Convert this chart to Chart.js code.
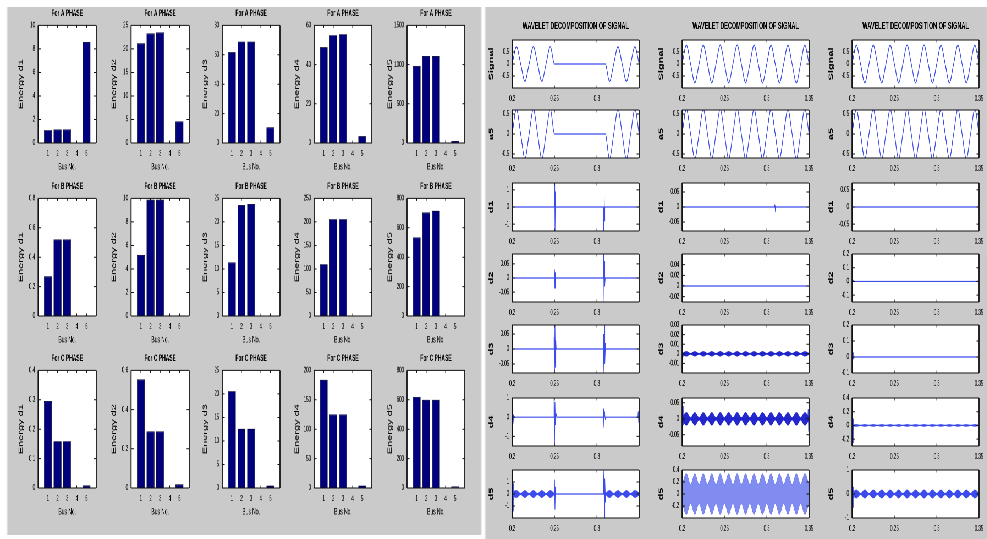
<!DOCTYPE html>
<html>
<head>
<meta charset="utf-8">
<script src="https://cdn.jsdelivr.net/npm/chart.js@4.4.1/dist/chart.umd.min.js"></script>
<style>
  html, body { margin: 0; padding: 0; background: #fff; overflow: hidden; }
  #stage { position: absolute; left: 0; top: 0; width: 1795px; height: 539px; transform: scaleX(0.55); transform-origin: 0 0; }
  .panel { position: absolute; background: #cacaca; }
  canvas { position: absolute; }
</style>
</head>
<body>
<div id="stage"></div>
<script>
// ---------- left figure: energy of the decomposition levels per bus ----------
const busNo = [1, 2, 3, 4, 5];
const busTicks = [1, 2, 3, 4, 5];
const phaseTitles = ['For A PHASE', 'For B PHASE', 'For C PHASE'];
const energyNames = ['Energy d1', 'Energy d2', 'Energy d3', 'Energy d4', 'Energy d5'];

const phaseA_d1 = [1.1, 1.15, 1.15, 0.03, 8.6];
const phaseA_d2 = [21.2, 23.3, 23.5, 0.1, 4.6];
const phaseA_d3 = [61.8, 69, 69, 0.3, 10.7];
const phaseA_d4 = [48.9, 55, 55.5, 0.3, 3.5];
const phaseA_d5 = [983, 1109, 1109, 5, 25];
const phaseB_d1 = [0.27, 0.52, 0.52, 0.004, 0.004];
const phaseB_d2 = [5.2, 9.9, 9.9, 0.05, 0.05];
const phaseB_d3 = [11.4, 23.6, 23.8, 0.1, 0.1];
const phaseB_d4 = [110, 206, 206, 1, 1];
const phaseB_d5 = [534, 704, 716, 3, 3];
const phaseC_d1 = [0.296, 0.159, 0.159, 0.002, 0.009];
const phaseC_d2 = [0.554, 0.289, 0.289, 0.003, 0.019];
const phaseC_d3 = [20.6, 12.6, 12.6, 0.1, 0.5];
const phaseC_d4 = [184, 125, 125, 1, 4];
const phaseC_d5 = [619, 600, 600, 3, 10];

const ticksA = [[0, 2, 4, 6, 8, 10], [0, 5, 10, 15, 20, 25], [0, 20, 40, 60, 80], [0, 20, 40, 60], [0, 500, 1000, 1500]];
const ticksB = [[0, 0.2, 0.4, 0.6, 0.8], [0, 2, 4, 6, 8, 10], [0, 5, 10, 15, 20, 25], [0, 50, 100, 150, 200, 250], [0, 200, 400, 600, 800]];
const ticksC = [[0, 0.1, 0.2, 0.3, 0.4], [0, 0.2, 0.4, 0.6], [0, 5, 10, 15, 20, 25], [0, 50, 100, 150, 200], [0, 200, 400, 600, 800]];

// ---------- right figure: wavelet decomposition, three cases ----------
const waveTitle = 'WAVELET DECOMPOSITION OF SIGNAL';
const levelNames = ['Signal', 'a5', 'd1', 'd2', 'd3', 'd4', 'd5'];
const timeTicks = [0.2, 0.25, 0.3, 0.35];
const timeTicksCase1 = [0.2, 0.25, 0.3];
const tQ = [0.2, 0.205, 0.21, 0.215, 0.22, 0.225, 0.23, 0.235, 0.24, 0.245, 0.25, 0.255, 0.26, 0.265, 0.27, 0.275, 0.28, 0.285, 0.29, 0.295, 0.3, 0.305, 0.31, 0.315, 0.32, 0.325, 0.33, 0.335, 0.34, 0.345, 0.35];

// case 1 (interruption between 0.25 and 0.31 s)
const sig1 = [0, 0.72, 0, -0.72, 0, 0.72, 0, -0.72, 0, 0.72, 0, 0, 0, 0, 0, 0, 0, 0, 0, 0, 0, 0, 0, -0.72, 0, 0.72, 0, -0.72, 0, 0.72, 0];
const a5_1 = [0, 0.62, 0, -0.62, 0, 0.62, 0, -0.62, 0, 0.62, 0, 0, 0, 0, 0, 0, 0, 0, 0, 0, 0, 0, 0, -0.62, 0, 0.62, 0, -0.62, 0, 0.62, 0];
const d1_1t = [0.2, 0.2498, 0.2502, 0.2506, 0.251, 0.2514, 0.3079, 0.3083, 0.3087, 0.3091, 0.3095, 0.35];
const d1_1y = [0, 0, 1.5, -1.5, 0.9, 0, 0, -1.5, 1.5, -0.8, 0, 0];
const d2_1t = [0.2, 0.2496, 0.25, 0.2504, 0.2508, 0.2512, 0.3078, 0.3082, 0.3086, 0.309, 0.3094, 0.3098, 0.35];
const d2_1y = [0, 0, 0.03, -0.035, 0.02, 0, 0, 0.1, -0.1, 0.06, -0.03, 0, 0];
const d3_1t = [0.2, 0.249, 0.2495, 0.25, 0.2505, 0.251, 0.2515, 0.252, 0.3075, 0.308, 0.3085, 0.309, 0.3095, 0.31, 0.3105, 0.35];
const d3_1y = [0, 0, 0.04, -0.09, 0.09, -0.06, 0.03, 0, 0, 0.05, -0.09, 0.09, -0.05, 0.02, 0, 0];
const d4_1t = [0.2, 0.2005, 0.201, 0.2015, 0.203, 0.249, 0.2495, 0.25, 0.2505, 0.251, 0.252, 0.253, 0.3075, 0.308, 0.3085, 0.309, 0.31, 0.311, 0.3485, 0.349, 0.3495, 0.35];
const d4_1y = [0, 0.4, -0.35, 0.1, 0, 0, 1.1, -1.6, 0.8, -0.4, 0.15, 0, 0, 0.45, -0.55, 0.3, -0.1, 0, 0, 0.3, -0.3, 0];
const d5_1t = [0.2, 0.2004, 0.2008, 0.2012, 0.2016, 0.202, 0.2495, 0.25, 0.2505, 0.251, 0.2515, 0.308, 0.3085, 0.309, 0.3095, 0.31, 0.3105, 0.35];
const d5_1y = [0, 1.2, -1.4, 0.9, -0.5, 0, 0, 1.2, -1.3, 0.6, 0, 0, 2.2, -2.2, 1.3, -0.7, 0, 0];
const d5_1Up = [0.15, 0.3, 0.05, 0.3, 0.05, 0.3, 0.05, 0.3, 0.05, 0.3, 0.05, 0, 0, 0, 0, 0, 0, 0, 0, 0, 0, 0, 0.05, 0.3, 0.05, 0.3, 0.05, 0.3, 0.05, 0.3, 0.1];
const d5_1Lo = [-0.15, -0.3, -0.05, -0.3, -0.05, -0.3, -0.05, -0.3, -0.05, -0.3, -0.05, 0, 0, 0, 0, 0, 0, 0, 0, 0, 0, 0, -0.05, -0.3, -0.05, -0.3, -0.05, -0.3, -0.05, -0.3, -0.1];

// case 2
const sig2 = [0, 0.78, 0, -0.78, 0, 0.78, 0, -0.78, 0, 0.78, 0, -0.78, 0, 0.78, 0, -0.78, 0, 0.78, 0, -0.78, 0, 0.78, 0, -0.78, 0, 0.78, 0, -0.78, 0, 0.78, 0];
const a5_2 = [0, 0.62, 0, -0.62, 0, 0.62, 0, -0.62, 0, 0.62, 0, -0.62, 0, 0.62, 0, -0.62, 0, 0.62, 0, -0.62, 0, 0.62, 0, -0.62, 0, 0.62, 0, -0.62, 0, 0.62, 0];
const d1_2t = [0.2, 0.309, 0.3095, 0.31, 0.3105, 0.311, 0.35];
const d1_2y = [0, 0, 0.008, -0.008, 0.004, 0, 0];
const d2_2t = [0.2, 0.2005, 0.201, 0.2015, 0.35];
const d2_2y = [0.004, -0.004, 0.002, 0, 0];
const d3_2t = [0.2, 0.2003, 0.2006, 0.2009, 0.2015, 0.35];
const d3_2y = [0.03, -0.015, 0.01, -0.004, 0, 0];
const d3_2Up = [0.0005, 0.0025, 0.0005, 0.0025, 0.0005, 0.0025, 0.0005, 0.0025, 0.0005, 0.0025, 0.0005, 0.0025, 0.0005, 0.0025, 0.0005, 0.0025, 0.0005, 0.0025, 0.0005, 0.0025, 0.0005, 0.0025, 0.0005, 0.0025, 0.0005, 0.0025, 0.0005, 0.0025, 0.0005, 0.0025, 0.0005];
const d3_2Lo = [-0.0005, -0.0025, -0.0005, -0.0025, -0.0005, -0.0025, -0.0005, -0.0025, -0.0005, -0.0025, -0.0005, -0.0025, -0.0005, -0.0025, -0.0005, -0.0025, -0.0005, -0.0025, -0.0005, -0.0025, -0.0005, -0.0025, -0.0005, -0.0025, -0.0005, -0.0025, -0.0005, -0.0025, -0.0005, -0.0025, -0.0005];
const d4_2t = [0.2, 0.2003, 0.2006, 0.2009, 0.2012, 0.2015, 0.3485, 0.349, 0.3495, 0.35];
const d4_2y = [0, 0.06, -0.08, 0.04, -0.02, 0, 0, 0.03, -0.04, 0];
const d4_2Up = [0.004, 0.02, 0.004, 0.02, 0.004, 0.02, 0.004, 0.02, 0.004, 0.02, 0.004, 0.02, 0.004, 0.02, 0.004, 0.02, 0.004, 0.02, 0.004, 0.02, 0.004, 0.02, 0.004, 0.02, 0.004, 0.02, 0.004, 0.02, 0.004, 0.02, 0.004];
const d4_2Lo = [-0.004, -0.02, -0.004, -0.02, -0.004, -0.02, -0.004, -0.02, -0.004, -0.02, -0.004, -0.02, -0.004, -0.02, -0.004, -0.02, -0.004, -0.02, -0.004, -0.02, -0.004, -0.02, -0.004, -0.02, -0.004, -0.02, -0.004, -0.02, -0.004, -0.02, -0.004];
const d5_2t = [0.2, 0.2004, 0.2008];
const d5_2y = [0.38, -0.3, 0];
const d5_2Up = [0.16, 0.34, 0.16, 0.34, 0.16, 0.34, 0.16, 0.34, 0.16, 0.34, 0.16, 0.34, 0.16, 0.34, 0.16, 0.34, 0.16, 0.34, 0.16, 0.34, 0.16, 0.34, 0.16, 0.34, 0.16, 0.34, 0.16, 0.34, 0.16, 0.34, 0.16];
const d5_2Lo = [-0.16, -0.34, -0.16, -0.34, -0.16, -0.34, -0.16, -0.34, -0.16, -0.34, -0.16, -0.34, -0.16, -0.34, -0.16, -0.34, -0.16, -0.34, -0.16, -0.34, -0.16, -0.34, -0.16, -0.34, -0.16, -0.34, -0.16, -0.34, -0.16, -0.34, -0.16];

// case 3
const sig3 = [0, 0.78, 0, -0.78, 0, 0.78, 0, -0.78, 0, 0.78, 0, -0.78, 0, 0.78, 0, -0.78, 0, 0.78, 0, -0.78, 0, 0.78, 0, -0.78, 0, 0.78, 0, -0.78, 0, 0.78, 0];
const a5_3 = [0, 0.62, 0, -0.62, 0, 0.62, 0, -0.62, 0, 0.62, 0, -0.62, 0, 0.62, 0, -0.62, 0, 0.62, 0, -0.62, 0, 0.62, 0, -0.62, 0, 0.62, 0, -0.62, 0, 0.62, 0];
const d1_3t = [0.2, 0.35];
const d1_3y = [0, 0];
const d2_3t = [0.2, 0.2005, 0.201, 0.2015, 0.35];
const d2_3y = [0.02, -0.02, 0.01, 0, 0];
const d3_3t = [0.2, 0.2004, 0.2008, 0.2012, 0.2016, 0.35];
const d3_3y = [0.04, -0.05, 0.03, -0.01, 0, 0];
const d4_3t = [0.2, 0.2004, 0.2008, 0.2012, 0.2016, 0.2025, 0.35];
const d4_3y = [0.1, 0.3, -0.25, 0.1, -0.05, 0, 0];
const d4_3Up = [0.003, 0.015, 0.003, 0.015, 0.003, 0.015, 0.003, 0.015, 0.003, 0.015, 0.003, 0.015, 0.003, 0.015, 0.003, 0.015, 0.003, 0.015, 0.003, 0.015, 0.003, 0.015, 0.003, 0.015, 0.003, 0.015, 0.003, 0.015, 0.003, 0.015, 0.003];
const d4_3Lo = [-0.003, -0.015, -0.003, -0.015, -0.003, -0.015, -0.003, -0.015, -0.003, -0.015, -0.003, -0.015, -0.003, -0.015, -0.003, -0.015, -0.003, -0.015, -0.003, -0.015, -0.003, -0.015, -0.003, -0.015, -0.003, -0.015, -0.003, -0.015, -0.003, -0.015, -0.003];
const d5_3t = [0.2, 0.2004, 0.2008, 0.2012, 0.2016, 0.202, 0.35];
const d5_3y = [0, 0.45, -0.55, 0.3, -0.1, 0, 0];
const d5_3Up = [0.03, 0.17, 0.03, 0.17, 0.03, 0.17, 0.03, 0.17, 0.03, 0.17, 0.03, 0.17, 0.03, 0.17, 0.03, 0.17, 0.03, 0.17, 0.03, 0.17, 0.03, 0.17, 0.03, 0.17, 0.03, 0.17, 0.03, 0.17, 0.03, 0.17, 0.03];
const d5_3Lo = [-0.03, -0.17, -0.03, -0.17, -0.03, -0.17, -0.03, -0.17, -0.03, -0.17, -0.03, -0.17, -0.03, -0.17, -0.03, -0.17, -0.03, -0.17, -0.03, -0.17, -0.03, -0.17, -0.03, -0.17, -0.03, -0.17, -0.03, -0.17, -0.03, -0.17, -0.03];

// ---------- layout (real pixels; the stage is squeezed horizontally by SX) ----------
const SX = 0.55;
const barColX = [38, 131, 222, 314, 407], barPlotW = 58;
const barRowY = [25, 198, 370], barPlotH = 118;
const waveColX = [512, 682, 852], wavePlotW = 127;
const waveRowY = [40, 110, 183, 254, 325, 398, 470], wavePlotH = 48;

const lineBlue = 'rgb(60,75,235)';
const FONT = "'Liberation Sans', Arial, sans-serif";
Chart.defaults.font.family = FONT;
Chart.defaults.color = '#000';

const mBar = { yW: 70, pad: 2, top: 21.4, xH: 34, right: 14, tick: 8, yTickPad: 5.5, xTickPad: 6,
  yTitle: { size: 11 }, yTitlePad: 32.5, xTitlePad: 4.6, title: { size: 9, lineHeight: 1.2 }, titlePadB: 6.6 };
const mWaveTop = { yW: 60, pad: 2, top: 24, xH: 18, right: 14, tick: 8, yTickPad: 5.5, xTickPad: 6,
  yTitle: { size: 11, weight: 'bold' }, yTitlePad: 15.2, title: { size: 10, lineHeight: 1.2 }, titlePadB: 8 };
const mWave = Object.assign({}, mWaveTop, { pad: 6, top: 6, title: null });

const stage = document.getElementById('stage');

function addPanel(x, y, w, h) {
  const d = document.createElement('div');
  d.className = 'panel';
  Object.assign(d.style, { left: x / SX + 'px', top: y + 'px', width: w / SX + 'px', height: h + 'px' });
  stage.appendChild(d);
}

function makeCanvas(px, py, pw, ph, m) {
  const c = document.createElement('canvas');
  const w = m.yW + pw / SX + m.right;
  const h = m.top + ph + m.xH + 2;
  c.width = w; c.height = h;
  Object.assign(c.style, { left: (px / SX - m.yW) + 'px', top: (py - m.top) + 'px', width: w + 'px', height: h + 'px' });
  stage.appendChild(c);
  return c;
}

// white axes area, matlab style box and inward ticks
const frame = {
  id: 'frame',
  beforeDraw(chart) {
    const a = chart.chartArea, ctx = chart.ctx;
    ctx.save(); ctx.fillStyle = '#fff'; ctx.fillRect(a.left, a.top, a.width, a.height); ctx.restore();
  },
  afterDraw(chart) {
    const a = chart.chartArea, ctx = chart.ctx, sx = chart.scales.x, sy = chart.scales.y;
    ctx.save();
    ctx.strokeStyle = '#111';
    ctx.lineWidth = 1;
    ctx.beginPath();
    ctx.moveTo(a.left, a.top); ctx.lineTo(a.right, a.top);
    ctx.moveTo(a.left, a.bottom); ctx.lineTo(a.right, a.bottom);
    sx.ticks.forEach(t => {
      const p = sx.getPixelForValue(t.value);
      ctx.moveTo(p, a.bottom); ctx.lineTo(p, a.bottom - 2.5);
      ctx.moveTo(p, a.top); ctx.lineTo(p, a.top + 2.5);
    });
    sy.ticks.forEach(t => {
      const p = sy.getPixelForValue(t.value);
      ctx.moveTo(a.left, p); ctx.lineTo(a.left + 4.5, p);
      ctx.moveTo(a.right, p); ctx.lineTo(a.right - 4.5, p);
    });
    ctx.stroke();
    ctx.beginPath();
    ctx.lineWidth = 1.8;
    ctx.moveTo(a.left, a.top); ctx.lineTo(a.left, a.bottom);
    ctx.moveTo(a.right, a.top); ctx.lineTo(a.right, a.bottom);
    ctx.stroke();
    ctx.restore();
  }
};

function xScale(min, max, ticks, title, m) {
  return {
    type: 'linear', min, max, offset: false,
    grid: { display: false, drawTicks: false }, border: { display: false },
    ticks: { font: { size: m.tick }, padding: m.xTickPad, autoSkip: false, maxRotation: 0, callback: v => String(v) },
    title: { display: !!title, text: title || '', font: { size: 9 }, padding: { top: 0, bottom: m.xTitlePad || 0 } },
    afterBuildTicks: s => { s.ticks = ticks.map(v => ({ value: v })); },
    afterFit: s => { s.height = m.xH; s.paddingLeft = 0; s.paddingRight = 0; }
  };
}

function yScale(min, max, ticks, title, m) {
  return {
    type: 'linear', min, max,
    grid: { display: false, drawTicks: false }, border: { display: false },
    ticks: { font: { size: m.tick }, padding: m.yTickPad, autoSkip: false, callback: v => String(v) },
    title: { display: true, text: title, font: m.yTitle, padding: { top: m.yTitlePad, bottom: 0 } },
    afterBuildTicks: s => { s.ticks = ticks.map(v => ({ value: v })); },
    afterFit: s => { s.width = m.yW; s.paddingTop = 0; s.paddingBottom = 0; }
  };
}

function baseOptions(m, titleText) {
  return {
    responsive: false, animation: false, devicePixelRatio: 2,
    layout: { padding: { left: 0, right: m.right, top: m.pad, bottom: 2 }, autoPadding: false },
    plugins: {
      legend: { display: false }, tooltip: { enabled: false },
      title: m.title
        ? { display: true, fullSize: false, align: 'center', text: titleText, font: m.title, color: '#000', padding: { top: 2, bottom: m.titlePadB } }
        : { display: false }
    }
  };
}

function barPlot(r, c, vals, ticks) {
  const cv = makeCanvas(barColX[c], barRowY[r], barPlotW, barPlotH, mBar);
  const opts = baseOptions(mBar, phaseTitles[r]);
  opts.scales = {
    x: xScale(0, 6, busTicks, 'Bus No.', mBar),
    y: yScale(0, ticks[ticks.length - 1], ticks, energyNames[c], mBar)
  };
  new Chart(cv, {
    type: 'bar',
    data: { datasets: [{
      data: busNo.map((b, i) => ({ x: b, y: vals[i] })),
      backgroundColor: '#00007c', borderColor: '#000030', borderWidth: 0.8,
      barPercentage: 0.8, categoryPercentage: 1
    }] },
    options: opts,
    plugins: [frame]
  });
}

function wavePlot(col, row, p) {
  const m = row === 0 ? mWaveTop : mWave;
  const cv = makeCanvas(waveColX[col], waveRowY[row], wavePlotW, wavePlotH, m);
  const datasets = [];
  if (p.up) {
    const ec = p.envColor || lineBlue;
    datasets.push({ data: tQ.map((t, i) => ({ x: t, y: p.up[i] })), borderColor: ec, backgroundColor: ec,
      borderWidth: 0.6, pointRadius: 0, tension: 0.35, fill: '+1' });
    datasets.push({ data: tQ.map((t, i) => ({ x: t, y: p.lo[i] })), borderColor: ec, backgroundColor: ec,
      borderWidth: 0.6, pointRadius: 0, tension: 0.35, fill: false });
  }
  datasets.push({ data: p.t.map((t, i) => ({ x: t, y: p.y[i] })), borderColor: lineBlue, borderWidth: 1.2,
    pointRadius: 0, fill: false, tension: 0, cubicInterpolationMode: p.smooth ? 'monotone' : 'default' });
  const opts = baseOptions(m, waveTitle);
  opts.scales = {
    x: xScale(0.2, 0.35, col === 0 ? timeTicksCase1 : timeTicks, null, m),
    y: yScale(p.lim[0], p.lim[1], p.ticks, levelNames[row], m)
  };
  new Chart(cv, { type: 'line', data: { datasets }, options: opts, plugins: [frame] });
}

// ---------- build ----------
addPanel(7, 7, 474, 528);
addPanel(485, 7, 502, 532);

const energyRows = [
  [phaseA_d1, phaseA_d2, phaseA_d3, phaseA_d4, phaseA_d5],
  [phaseB_d1, phaseB_d2, phaseB_d3, phaseB_d4, phaseB_d5],
  [phaseC_d1, phaseC_d2, phaseC_d3, phaseC_d4, phaseC_d5]
];
const tickRows = [ticksA, ticksB, ticksC];
energyRows.forEach((row, r) => row.forEach((vals, c) => barPlot(r, c, vals, tickRows[r][c])));

const darkBand = 'rgba(25,30,200,0.95)';
const lightBand = 'rgba(80,95,235,0.72)';
const waveCols = [
  [
    { lim: [-1, 1], ticks: [-0.5, 0, 0.5], t: tQ, y: sig1, smooth: true },
    { lim: [-0.6, 0.6], ticks: [-0.5, 0, 0.5], t: tQ, y: a5_1, smooth: true },
    { lim: [-1.4, 1.4], ticks: [-1, 0, 1], t: d1_1t, y: d1_1y },
    { lim: [-0.085, 0.085], ticks: [-0.05, 0, 0.05], t: d2_1t, y: d2_1y },
    { lim: [-0.08, 0.08], ticks: [-0.05, 0, 0.05], t: d3_1t, y: d3_1y },
    { lim: [-1.5, 1], ticks: [-1, 0, 1], t: d4_1t, y: d4_1y },
    { lim: [-2, 2], ticks: [-1, 0, 1], t: d5_1t, y: d5_1y, up: d5_1Up, lo: d5_1Lo }
  ],
  [
    { lim: [-1, 1], ticks: [-0.5, 0, 0.5], t: tQ, y: sig2, smooth: true },
    { lim: [-0.6, 0.6], ticks: [-0.5, 0, 0.5], t: tQ, y: a5_2, smooth: true },
    { lim: [-0.08, 0.08], ticks: [-0.05, 0, 0.05], t: d1_2t, y: d1_2y },
    { lim: [-0.03, 0.06], ticks: [-0.02, 0, 0.02, 0.04], t: d2_2t, y: d2_2y },
    { lim: [-0.02, 0.03], ticks: [-0.01, 0, 0.01, 0.02, 0.03], t: d3_2t, y: d3_2y, up: d3_2Up, lo: d3_2Lo, envColor: darkBand },
    { lim: [-0.085, 0.065], ticks: [-0.05, 0, 0.05], t: d4_2t, y: d4_2y, up: d4_2Up, lo: d4_2Lo, envColor: darkBand },
    { lim: [-0.4, 0.4], ticks: [-0.2, 0, 0.2, 0.4], t: d5_2t, y: d5_2y, up: d5_2Up, lo: d5_2Lo, envColor: lightBand }
  ],
  [
    { lim: [-1, 1], ticks: [-0.5, 0, 0.5], t: tQ, y: sig3, smooth: true },
    { lim: [-0.6, 0.6], ticks: [-0.5, 0, 0.5], t: tQ, y: a5_3, smooth: true },
    { lim: [-0.07, 0.07], ticks: [-0.05, 0, 0.05], t: d1_3t, y: d1_3y },
    { lim: [-0.15, 0.2], ticks: [-0.1, 0, 0.1, 0.2], t: d2_3t, y: d2_3y },
    { lim: [-0.1, 0.2], ticks: [-0.1, 0, 0.1, 0.2], t: d3_3t, y: d3_3y },
    { lim: [-0.3, 0.4], ticks: [-0.2, 0, 0.2, 0.4], t: d4_3t, y: d4_3y, up: d4_3Up, lo: d4_3Lo },
    { lim: [-1, 1], ticks: [-1, 0, 1], t: d5_3t, y: d5_3y, up: d5_3Up, lo: d5_3Lo }
  ]
];
waveCols.forEach((plots, col) => plots.forEach((p, row) => wavePlot(col, row, p)));
</script>
</body>
</html>
